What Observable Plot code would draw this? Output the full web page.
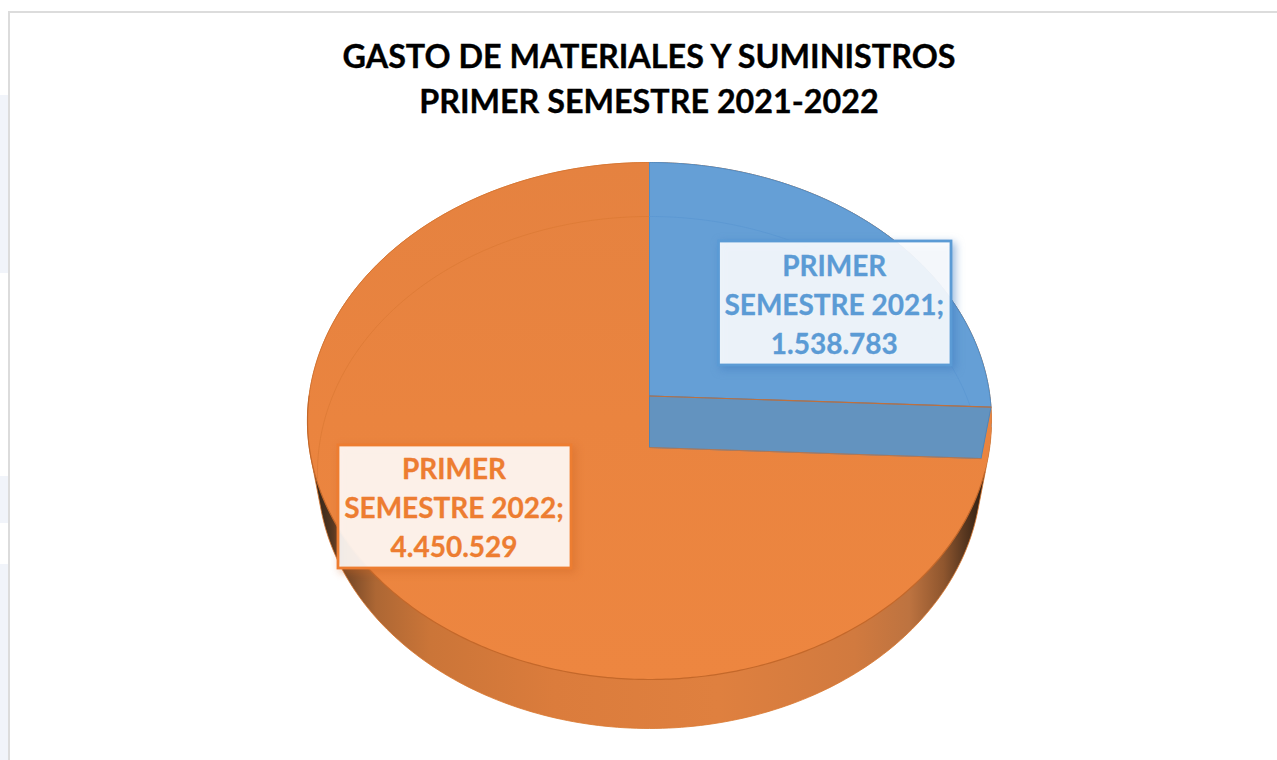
<!DOCTYPE html>
<html lang="es">
<head>
<meta charset="utf-8">
<script src="https://cdn.jsdelivr.net/npm/d3@7"></script>
<script src="https://cdn.jsdelivr.net/npm/@observablehq/plot@0.6"></script>
<style>
  html, body { margin: 0; padding: 0; background: #fff; overflow: hidden; }
  #page { position: relative; width: 1277px; height: 760px; overflow: hidden; }
  .blob { position: absolute; left: 0; width: 8px; background: #f1f4fa; }
  #frame { position: absolute; left: 8px; top: 11px; right: -4px; bottom: -4px;
           border-left: 2px solid #dcdcdc; border-top: 2px solid #dcdcdc; background: #fff; }
  #title { position: absolute; left: 0; top: 33px; width: 1298px; margin: 0; text-align: center;
           font: 700 32.3px/45px Lato, sans-serif; color: #000; -webkit-text-stroke: 0.35px #000; }
  #chart { position: absolute; left: 0; top: 130px; }
  #chart svg { display: block; background: transparent; }
  g[aria-label="rect"] rect:nth-child(1) { filter: drop-shadow(3px 3px 4px rgba(60,120,190,.55)); }
  g[aria-label="rect"] rect:nth-child(2) { filter: drop-shadow(3px 3px 4px rgba(205,100,35,.45)); }
  g[aria-label="text"] { stroke-width: 0.3px; paint-order: stroke; }
</style>
</head>
<body>
<div id="page">
  <div class="blob" style="top:95px;height:178px"></div>
  <div class="blob" style="top:476px;height:47px"></div>
  <div class="blob" style="top:564px;height:196px"></div>
  <div id="frame"></div>
  <h1 id="title">GASTO DE MATERIALES Y SUMINISTROS<br>PRIMER SEMESTRE 2021-2022</h1>
  <div id="chart"></div>
</div>
<script>
const categories = ["PRIMER SEMESTRE 2021", "PRIMER SEMESTRE 2022"];
const values = [1538783, 4450529];
const colors = ["#5b9bd5", "#ed7d31"];

// Tilted-disc projection of the pie (perspective: the hub sits above the rim's middle)
const topRim = {cx: 649, cy: 420.5, rx: 342, ry: 258.5, hub: 25};
const lowRim = {cx: 649, cy: 472, rx: 332, ry: 256, hub: 25};
function project(rim, a) {
  const s = rim.hub / rim.ry; // perspective strength
  const u = Math.sin(a), v = Math.cos(a), w = 1 + s * v;
  return {x: rim.cx + rim.rx * Math.sqrt(1 - s * s) * u / w,
          y: rim.cy - (rim.ry * v + rim.hub) / w};
}
const hub = rim => ({x: rim.cx, y: rim.cy - rim.hub});
const arc = (rim, a0, a1, n = 240) => d3.range(n + 1).map(i => project(rim, a0 + (a1 - a0) * i / n));

const [blue, orange] = d3.pie().sort(null)(values);
const TAU = 2 * Math.PI;
const split = blue.endAngle;

const sideHull = d3.polygonHull([...arc(topRim, 0, TAU, 360), ...arc(lowRim, 0, TAU, 360)].map(p => [p.x, p.y]))
  .map(([x, y]) => ({x, y}));
const blueFace = [hub(topRim), ...arc(topRim, 0, split), hub(topRim)];
const blueWall = [hub(topRim), project(topRim, split), project(lowRim, split), hub(lowRim), hub(topRim)];

const labelFmt = v => d3.format(",")(v).replace(/,/g, ".");
const labels = categories.map((c, i) => ({
  text: c.replace(" ", "\n") + ";\n" + labelFmt(values[i]),
  color: colors[i],
  box: i === 0 ? [718.5, 951, 241, 365] : [338, 571, 445, 568]
}));

const poly = (data, fill, stroke = "none", strokeWidth = 1) =>
  Plot.line(data, {x: "x", y: "y", fill, stroke, strokeWidth});

const plot = Plot.plot({
  width: 1277, height: 630,
  margin: 0,
  x: {domain: [0, 1277], range: [0, 1277], axis: null},
  y: {domain: [130, 760], range: [0, 630], axis: null},
  marks: [
    poly(sideHull, "url(#sideGrad)", "#d9772f", 0.8),
    poly(arc(topRim, 0, TAU, 480), "url(#faceGrad)"),
    poly(arc(lowRim, 1.5 * Math.PI - 0.12, TAU), "none", "#dc7a35", 0.8),
    poly(arc(topRim, split + 0.25, 1.5 * Math.PI), "none", "#c4682a", 1.2),
    poly(arc(topRim, 1.5 * Math.PI, TAU), "none", "#d4732f", 0.7),
    poly(blueFace, "#659fd6", "#4f8cc6", 1),
    poly(arc(lowRim, 0, split), "none", "#5a97d2", 0.8),
    poly(blueWall, "#6393bf", "#4f85b8", 1),
    Plot.line([hub(topRim), project(topRim, split)], {x: "x", y: "y", stroke: "#c0703c", strokeWidth: 1.2}),
    Plot.line([project(lowRim, split), hub(lowRim)], {x: "x", y: "y", stroke: "#cf7436", strokeWidth: 0.8}),
    Plot.rect(labels, {
      x1: d => d.box[0], x2: d => d.box[1], y1: d => d.box[2], y2: d => d.box[3],
      fill: "#ffffff", fillOpacity: 0.89, stroke: "color", strokeWidth: 2.8
    }),
    Plot.text(labels, {
      x: d => (d.box[0] + d.box[1]) / 2 - 1, y: d => (d.box[2] + d.box[3]) / 2 - 1,
      text: "text", fill: "color", stroke: "color", fontSize: 28, fontWeight: 700, fontFamily: "Lato, sans-serif",
      lineHeight: 1.393, lineAnchor: "middle", textAnchor: "middle"
    })
  ]
});

const defs = d3.select(plot).append("defs");
const side = defs.append("linearGradient").attr("id", "sideGrad")
  .attr("gradientUnits", "userSpaceOnUse").attr("x1", 307).attr("x2", 991).attr("y1", 0).attr("y2", 0);
[[0, "#1c130b"], [0.02, "#3d2b1c"], [0.06, "#7a4a28"], [0.1, "#ad6734"], [0.18, "#cb7538"],
 [0.36, "#db7c3c"], [0.6, "#df803f"], [0.8, "#d17a3f"], [0.88, "#bd7340"], [0.93, "#8f562e"],
 [0.96, "#5a3820"], [1, "#1c130b"]]
  .forEach(([o, c]) => side.append("stop").attr("offset", o).attr("stop-color", c));
const face = defs.append("linearGradient").attr("id", "faceGrad")
  .attr("gradientUnits", "userSpaceOnUse").attr("x1", 0).attr("x2", 0).attr("y1", 32).attr("y2", 549);
[[0, "#e58240"], [0.5, "#ea843f"], [1, "#ed8640"]]
  .forEach(([o, c]) => face.append("stop").attr("offset", o).attr("stop-color", c));

document.getElementById("chart").append(plot);
</script>
</body>
</html>
